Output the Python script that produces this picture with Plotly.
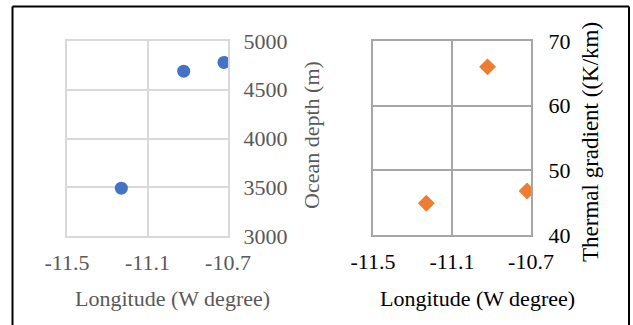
import plotly.graph_objects as go

W, H = 633, 325

# Data
longitude = [-11.23, -10.92, -10.72]
ocean_depth = [3490, 4690, 4780]
thermal_gradient = [44.9, 66.0, 46.8]

x_ticks = [-11.5, -11.1, -10.7]
x_tick_text = ["-11.5", "-11.1", "-10.7"]
depth_ticks = [3000, 3500, 4000, 4500, 5000]
grad_ticks = [40, 50, 60, 70]

FONT = "Liberation Serif"
GRAY_TXT = "#595959"
FS = 22

def px(x):
    return x / W

def py(y):
    return 1 - y / H

fig = go.Figure()
fig.add_trace(go.Scatter(x=longitude, y=ocean_depth, mode="markers",
                         marker=dict(symbol="circle", size=13, color="#4472C4"),
                         xaxis="x", yaxis="y", showlegend=False))
fig.add_trace(go.Scatter(x=longitude, y=thermal_gradient, mode="markers",
                         marker=dict(symbol="diamond", size=13, color="#ED7D31"),
                         xaxis="x2", yaxis="y2", showlegend=False))

common_x = dict(range=[-11.5, -10.7], tickvals=x_ticks, ticktext=x_tick_text,
                showgrid=True, gridwidth=2, zeroline=False, showline=True,
                mirror=True, linewidth=2, ticks="", ticklabelstandoff=6,
                automargin=False)
common_y = dict(showgrid=True, gridwidth=2, zeroline=False, showline=True,
                mirror=True, linewidth=2, ticks="", side="right", automargin=False)

fig.update_layout(
    template="none",
    width=W, height=H,
    margin=dict(l=0, r=0, t=0, b=0, pad=0),
    paper_bgcolor="white", plot_bgcolor="white",
    font=dict(family=FONT, size=FS),
    xaxis=dict(domain=[px(67), px(228)], anchor="y", gridcolor="#d9d9d9",
               linecolor="#d9d9d9", **common_x,
               tickfont=dict(family=FONT, size=FS, color=GRAY_TXT)),
    yaxis=dict(domain=[py(236), py(41)], anchor="x", range=[3000, 5000],
               tickvals=depth_ticks, gridcolor="#d9d9d9", linecolor="#d9d9d9",
               ticklabelstandoff=9, **common_y,
               tickfont=dict(family=FONT, size=FS, color=GRAY_TXT)),
    xaxis2=dict(domain=[px(373), px(531)], anchor="y2", gridcolor="#a6a6a6",
                linecolor="#a6a6a6", **common_x,
                tickfont=dict(family=FONT, size=FS, color="black")),
    yaxis2=dict(domain=[py(235), py(41)], anchor="x2", range=[40, 70],
                tickvals=grad_ticks, gridcolor="#a6a6a6", linecolor="#a6a6a6",
                ticklabelstandoff=11, **common_y,
                tickfont=dict(family=FONT, size=FS, color="black")),
)

annotations = [
    dict(text="Ocean depth (m)", x=px(311), y=py(135), textangle=-90,
         font=dict(family=FONT, size=22, color=GRAY_TXT)),
    dict(text="Thermal gradient ((K/km)", x=px(590), y=py(142), textangle=-90,
         font=dict(family=FONT, size=23, color="black")),
    dict(text="Longitude (W degree)", x=px(172), y=py(298),
         font=dict(family=FONT, size=FS, color=GRAY_TXT)),
    dict(text="Longitude (W degree)", x=px(477), y=py(298),
         font=dict(family=FONT, size=FS, color="black")),
]
for a in annotations:
    a.update(xref="paper", yref="paper", showarrow=False, xanchor="center", yanchor="middle")
fig.update_layout(annotations=annotations)

# Outer frame (left, top, right edges)
frame = dict(color="black", width=2)
fig.add_shape(type="line", xref="paper", yref="paper", x0=px(12.5), x1=px(12.5), y0=py(6.5), y1=0, line=frame)
fig.add_shape(type="line", xref="paper", yref="paper", x0=px(12.5), x1=px(629), y0=py(6.5), y1=py(6.5), line=frame)
fig.add_shape(type="line", xref="paper", yref="paper", x0=px(629), x1=px(629), y0=py(6.5), y1=0, line=frame)

fig.write_html("out.html")
